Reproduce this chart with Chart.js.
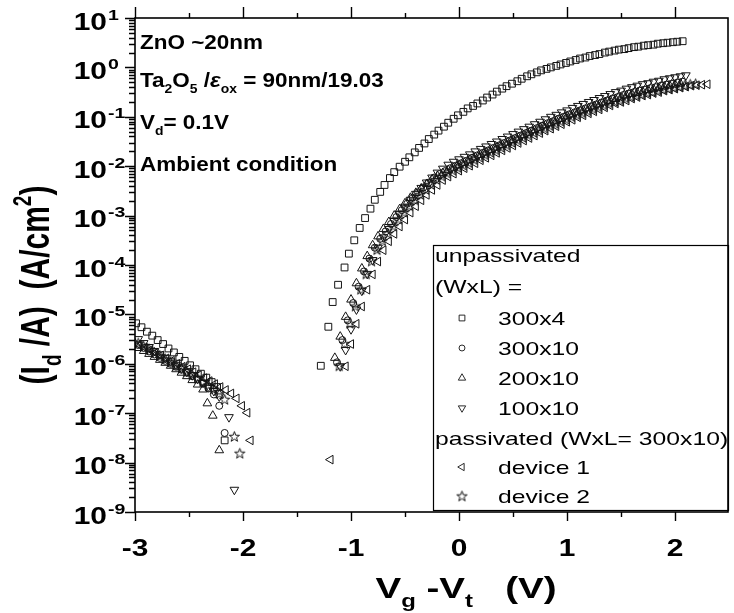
<!DOCTYPE html>
<html lang="en">
<head>
<meta charset="UTF-8">
<title>Id vs Vg - Vt</title>
<script src="https://cdn.jsdelivr.net/npm/chart.js"></script>
<style>
  body { margin: 0; background: #fff; }
  .chart-container { position: relative; width: 734px; height: 613px; }
</style>
</head>
<body>
<div class="chart-container"><canvas id="ivChart"></canvas></div>
<script>
// Data: [Vg - Vt (V), log10 of Id] (values taken on the log axis)
const sq300x4Off = [[-2.99,-5.18],[-2.94,-5.26],[-2.89,-5.35],[-2.84,-5.43],[-2.79,-5.52],[-2.74,-5.60],[-2.69,-5.69],[-2.64,-5.77],[-2.59,-5.86],[-2.54,-5.94],[-2.49,-6.03],[-2.44,-6.11],[-2.39,-6.20],[-2.34,-6.28],[-2.29,-6.37],[-2.24,-6.47],[-2.17,-7.55]];
const sq300x4On = [[-1.28,-6.04],[-1.21,-5.25],[-1.17,-4.75],[-1.12,-4.40],[-1.06,-4.05],[-1.02,-3.77],[-0.97,-3.50],[-0.92,-3.25],[-0.87,-3.05],[-0.82,-2.86],
  [-0.78,-2.68],[-0.73,-2.52],[-0.69,-2.38],[-0.64,-2.24],[-0.60,-2.12],[-0.55,-2.01],[-0.50,-1.91],[-0.46,-1.82],[-0.41,-1.72],[-0.37,-1.63],
  [-0.32,-1.54],[-0.28,-1.45],[-0.23,-1.36],[-0.19,-1.28],[-0.14,-1.20],[-0.10,-1.12],[-0.05,-1.04],[-0.01,-0.97],[0.04,-0.90],[0.08,-0.83],
  [0.13,-0.78],[0.17,-0.73],[0.22,-0.67],[0.26,-0.61],[0.31,-0.55],[0.35,-0.49],[0.40,-0.43],[0.44,-0.38],[0.49,-0.33],[0.54,-0.28],
  [0.58,-0.23],[0.63,-0.18],[0.67,-0.14],[0.72,-0.10],[0.76,-0.06],[0.81,-0.03],[0.85,0.00],[0.90,0.03],[0.94,0.06],[0.99,0.09],
  [1.03,0.12],[1.08,0.15],[1.12,0.18],[1.17,0.20],[1.21,0.23],[1.26,0.25],[1.30,0.27],[1.35,0.30],[1.39,0.32],[1.44,0.34],
  [1.48,0.36],[1.53,0.37],[1.57,0.39],[1.62,0.41],[1.66,0.42],[1.71,0.44],[1.75,0.45],[1.80,0.46],[1.84,0.48],[1.89,0.49],
  [1.93,0.50],[1.98,0.51],[2.02,0.52],[2.07,0.53]];

const circ300x10Off = [[-2.97,-5.62],[-2.92,-5.68],[-2.87,-5.75],[-2.82,-5.81],[-2.77,-5.88],[-2.72,-5.94],[-2.67,-6.00],[-2.62,-6.06],[-2.57,-6.12],[-2.52,-6.18],[-2.47,-6.25],[-2.42,-6.32],[-2.37,-6.40],[-2.32,-6.50],[-2.27,-6.62],[-2.22,-6.85],[-2.17,-7.40]];
const circ300x10On = [[-1.13,-5.97],[-1.08,-5.52],[-1.03,-5.12],[-0.98,-4.77],[-0.93,-4.44],[-0.88,-4.13],[-0.83,-3.87],[-0.78,-3.65],[-0.73,-3.47],[-0.68,-3.32],
  [-0.63,-3.17],[-0.58,-3.03],[-0.53,-2.89],[-0.48,-2.76],[-0.43,-2.64],[-0.38,-2.53],[-0.33,-2.43],[-0.28,-2.33],[-0.23,-2.23],[-0.18,-2.16],
  [-0.13,-2.10],[-0.08,-2.04],[-0.03,-1.99],[0.02,-1.94],[0.07,-1.89],[0.12,-1.83],[0.17,-1.78],[0.22,-1.73],[0.27,-1.68],[0.32,-1.63],
  [0.37,-1.58],[0.42,-1.53],[0.47,-1.48],[0.52,-1.43],[0.57,-1.38],[0.62,-1.33],[0.67,-1.28],[0.72,-1.23],[0.77,-1.18],[0.82,-1.13],
  [0.87,-1.09],[0.92,-1.04],[0.97,-1.00],[1.02,-0.95],[1.07,-0.91],[1.12,-0.87],[1.17,-0.83],[1.22,-0.79],[1.27,-0.75],[1.32,-0.71],
  [1.37,-0.67],[1.42,-0.63],[1.47,-0.60],[1.52,-0.56],[1.57,-0.53],[1.62,-0.50],[1.67,-0.47],[1.72,-0.45],[1.77,-0.42],[1.82,-0.40],
  [1.87,-0.37],[1.92,-0.35],[1.97,-0.33],[2.02,-0.31],[2.07,-0.29]];

const tri200x10Off = [[-2.97,-5.68],[-2.92,-5.74],[-2.87,-5.80],[-2.82,-5.86],[-2.77,-5.92],[-2.72,-5.98],[-2.67,-6.04],[-2.62,-6.11],[-2.57,-6.18],[-2.52,-6.25],[-2.47,-6.33],[-2.42,-6.42],[-2.37,-6.52],[-2.33,-6.80],[-2.28,-7.05],[-2.22,-7.75]];
const tri200x10On = [[-1.15,-5.88],[-1.10,-5.45],[-1.05,-5.05],[-1.00,-4.70],[-0.95,-4.37],[-0.90,-4.07],[-0.85,-3.82],[-0.80,-3.60],[-0.75,-3.42],[-0.70,-3.27],
  [-0.65,-3.13],[-0.60,-3.00],[-0.55,-2.87],[-0.50,-2.75],[-0.45,-2.64],[-0.40,-2.54],[-0.35,-2.45],[-0.30,-2.36],[-0.25,-2.27],[-0.20,-2.20],
  [-0.15,-2.14],[-0.10,-2.08],[-0.05,-2.03],[0.00,-1.98],[0.05,-1.93],[0.10,-1.87],[0.15,-1.82],[0.20,-1.77],[0.25,-1.72],[0.30,-1.67],
  [0.35,-1.62],[0.40,-1.57],[0.45,-1.52],[0.50,-1.47],[0.55,-1.42],[0.60,-1.37],[0.65,-1.32],[0.70,-1.27],[0.75,-1.22],[0.80,-1.17],
  [0.85,-1.13],[0.90,-1.08],[0.95,-1.04],[1.00,-0.99],[1.05,-0.95],[1.10,-0.91],[1.15,-0.87],[1.20,-0.83],[1.25,-0.79],[1.30,-0.75],
  [1.35,-0.71],[1.40,-0.68],[1.45,-0.64],[1.50,-0.61],[1.55,-0.57],[1.60,-0.54],[1.65,-0.52],[1.70,-0.49],[1.75,-0.46],[1.80,-0.44],
  [1.85,-0.42],[1.90,-0.39],[1.95,-0.37],[2.00,-0.35],[2.05,-0.33]];

const tri100x10Off = [[-2.97,-5.50],[-2.92,-5.58],[-2.87,-5.66],[-2.82,-5.74],[-2.77,-5.81],[-2.72,-5.88],[-2.67,-5.95],[-2.62,-6.02],[-2.57,-6.09],[-2.52,-6.16],[-2.47,-6.23],[-2.42,-6.30],[-2.37,-6.38],[-2.32,-6.46],[-2.27,-6.55],[-2.22,-6.66],[-2.13,-7.08],[-2.08,-8.55]];
const tri100x10On = [[-1.10,-6.05],[-1.05,-5.72],[-1.00,-5.30],[-0.95,-4.90],[-0.90,-4.52],[-0.85,-4.18],[-0.80,-3.90],[-0.75,-3.65],[-0.70,-3.44],[-0.65,-3.27],
  [-0.60,-3.11],[-0.55,-2.96],[-0.50,-2.82],[-0.45,-2.68],[-0.40,-2.56],[-0.35,-2.44],[-0.30,-2.33],[-0.25,-2.23],[-0.20,-2.13],[-0.15,-2.05],
  [-0.10,-1.97],[-0.05,-1.91],[0.00,-1.86],[0.05,-1.81],[0.10,-1.76],[0.15,-1.70],[0.20,-1.65],[0.25,-1.60],[0.30,-1.55],[0.35,-1.50],
  [0.40,-1.45],[0.45,-1.40],[0.50,-1.35],[0.55,-1.30],[0.60,-1.25],[0.65,-1.20],[0.70,-1.15],[0.75,-1.10],[0.80,-1.05],[0.85,-1.00],
  [0.90,-0.96],[0.95,-0.91],[1.00,-0.87],[1.05,-0.82],[1.10,-0.78],[1.15,-0.74],[1.20,-0.70],[1.25,-0.66],[1.30,-0.62],[1.35,-0.58],
  [1.40,-0.54],[1.45,-0.50],[1.50,-0.47],[1.55,-0.43],[1.60,-0.40],[1.65,-0.37],[1.70,-0.34],[1.75,-0.32],[1.80,-0.29],[1.85,-0.27],
  [1.90,-0.24],[1.95,-0.22],[2.00,-0.20],[2.05,-0.18],[2.10,-0.16]];

const device1Off = [[-2.96,-5.62],[-2.91,-5.67],[-2.86,-5.72],[-2.81,-5.78],[-2.76,-5.83],[-2.71,-5.89],[-2.66,-5.94],[-2.61,-6.00],[-2.56,-6.06],[-2.51,-6.11],[-2.46,-6.17],[-2.41,-6.23],[-2.36,-6.29],[-2.31,-6.35],[-2.26,-6.41],[-2.21,-6.47],[-2.16,-6.53],[-2.11,-6.60],[-2.06,-6.70],[-2.01,-6.85],[-1.96,-6.99],[-1.93,-7.55],[-1.19,-7.94]];
const device1On = [[-1.05,-6.05],[-1.00,-5.60],[-0.95,-5.19],[-0.90,-4.84],[-0.85,-4.50],[-0.80,-4.19],[-0.75,-3.93],[-0.70,-3.70],[-0.65,-3.52],[-0.60,-3.37],
  [-0.55,-3.22],[-0.50,-3.08],[-0.45,-2.94],[-0.40,-2.81],[-0.35,-2.69],[-0.30,-2.58],[-0.25,-2.48],[-0.20,-2.38],[-0.15,-2.28],[-0.10,-2.21],
  [-0.05,-2.15],[0.00,-2.09],[0.05,-2.04],[0.10,-1.99],[0.15,-1.94],[0.20,-1.88],[0.25,-1.83],[0.30,-1.78],[0.35,-1.73],[0.40,-1.68],
  [0.45,-1.63],[0.50,-1.58],[0.55,-1.53],[0.60,-1.48],[0.65,-1.43],[0.70,-1.38],[0.75,-1.33],[0.80,-1.28],[0.85,-1.24],[0.90,-1.19],
  [0.95,-1.15],[1.00,-1.10],[1.05,-1.06],[1.10,-1.01],[1.15,-0.97],[1.20,-0.93],[1.25,-0.89],[1.30,-0.85],[1.35,-0.81],[1.40,-0.77],
  [1.45,-0.73],[1.50,-0.70],[1.55,-0.67],[1.60,-0.63],[1.65,-0.60],[1.70,-0.57],[1.75,-0.55],[1.80,-0.52],[1.85,-0.50],[1.90,-0.47],
  [1.95,-0.45],[2.00,-0.43],[2.05,-0.41],[2.10,-0.39],[2.15,-0.37],[2.20,-0.36],[2.25,-0.35],[2.30,-0.34]];

const device2Off = [[-2.97,-5.58],[-2.92,-5.64],[-2.87,-5.70],[-2.82,-5.77],[-2.77,-5.83],[-2.72,-5.90],[-2.67,-5.96],[-2.62,-6.03],[-2.57,-6.09],[-2.52,-6.16],[-2.47,-6.22],[-2.42,-6.29],[-2.37,-6.36],[-2.32,-6.43],[-2.27,-6.51],[-2.22,-6.60],[-2.17,-6.72],[-2.08,-7.47],[-2.03,-7.81]];
const device2On = [[-1.11,-6.04],[-1.06,-5.59],[-1.01,-5.18],[-0.96,-4.83],[-0.91,-4.49],[-0.86,-4.18],[-0.81,-3.92],[-0.76,-3.69],[-0.71,-3.51],[-0.66,-3.36],
  [-0.61,-3.21],[-0.56,-3.07],[-0.51,-2.93],[-0.46,-2.80],[-0.41,-2.68],[-0.36,-2.57],[-0.31,-2.47],[-0.26,-2.37],[-0.21,-2.27],[-0.16,-2.20],
  [-0.11,-2.14],[-0.06,-2.08],[-0.01,-2.03],[0.04,-1.98],[0.09,-1.93],[0.14,-1.87],[0.19,-1.82],[0.24,-1.77],[0.29,-1.72],[0.34,-1.67],
  [0.39,-1.62],[0.44,-1.57],[0.49,-1.52],[0.54,-1.47],[0.59,-1.42],[0.64,-1.37],[0.69,-1.32],[0.74,-1.27],[0.79,-1.23],[0.84,-1.18],
  [0.89,-1.14],[0.94,-1.09],[0.99,-1.05],[1.04,-1.00],[1.09,-0.96],[1.14,-0.92],[1.19,-0.88],[1.24,-0.84],[1.29,-0.80],[1.34,-0.76],
  [1.39,-0.72],[1.44,-0.69],[1.49,-0.66],[1.54,-0.62],[1.59,-0.59],[1.64,-0.56],[1.69,-0.54],[1.74,-0.51],[1.79,-0.49],[1.84,-0.46],
  [1.89,-0.44],[1.94,-0.42],[1.99,-0.40],[2.04,-0.38],[2.09,-0.36],[2.14,-0.34],[2.19,-0.33]];

const seriesLabels = ['300x4', '300x10', '200x10', '100x10', 'device 1', 'device 2'];
const xMajorTicks = [-3, -2, -1, 0, 1, 2];
const xMinorTicks = [-2.5, -1.5, -0.5, 0.5, 1.5];
const xTickLabels = ['-3', '-2', '-1', '0', '1', '2'];
const yDecadeExps = [1, 0, -1, -2, -3, -4, -5, -6, -7, -8, -9];
const yTickExpLabels = ['1', '0', '-1', '-2', '-3', '-4', '-5', '-6', '-7', '-8', '-9'];

const FONT = '"Liberation Sans", Arial, Helvetica, sans-serif';
const INK = '#141414';

function toPoints(pairs) {
  return pairs.map(p => ({ x: p[0], y: Math.pow(10, p[1]) }));
}

// open 5-point star, Chart.js has no such marker
function makeStar() {
  const c = document.createElement('canvas');
  c.width = 13; c.height = 13;
  const g = c.getContext('2d');
  g.strokeStyle = INK; g.lineWidth = 1;
  g.beginPath();
  for (let k = 0; k < 10; k++) {
    const r = k % 2 === 0 ? 5.4 : 2.2;
    const ang = -Math.PI / 2 + k * Math.PI / 5;
    const px = 6.5 + r * Math.cos(ang), py = 7 + r * Math.sin(ang);
    if (k === 0) g.moveTo(px, py); else g.lineTo(px, py);
  }
  g.closePath();
  g.stroke();
  return c;
}
const starMark = makeStar();

const markers = [
  { pointStyle: 'rect', radius: 4.8, rotation: 0 },
  { pointStyle: 'circle', radius: 3.5, rotation: 0 },
  { pointStyle: 'triangle', radius: 5, rotation: 0 },
  { pointStyle: 'triangle', radius: 5, rotation: 180 },
  { pointStyle: 'triangle', radius: 5, rotation: 270 },
  { pointStyle: starMark, radius: 5, rotation: 0 }
];
const seriesData = [
  sq300x4Off.concat(sq300x4On),
  circ300x10Off.concat(circ300x10On),
  tri200x10Off.concat(tri200x10On),
  tri100x10Off.concat(tri100x10On),
  device1Off.concat(device1On),
  device2Off.concat(device2On)
];

// draw a list of [text, kind] runs from the current origin; kind: n, sub, sup, it
function drawRuns(ctx, runs, size, weight, draw) {
  let cx = 0;
  runs.forEach(([t, kind]) => {
    const small = kind === 'sub' || kind === 'sup';
    const fs = small ? Math.round(size * 0.62) : size;
    ctx.font = (kind === 'it' ? 'italic ' : '') + weight + ' ' + fs + 'px ' + FONT;
    const dy = kind === 'sub' ? size * 0.3 : (kind === 'sup' ? -size * 0.45 : 0);
    if (draw) ctx.fillText(t, cx, dy);
    cx += ctx.measureText(t).width;
  });
  return cx;
}

function text(ctx, runs, x, y, size, weight, sx, align) {
  ctx.save();
  ctx.translate(x, y);
  ctx.scale(sx, 1);
  const w = drawRuns(ctx, runs, size, weight, false);
  const off = align === 'center' ? -w / 2 : (align === 'right' ? -w : 0);
  ctx.translate(off, 0);
  drawRuns(ctx, runs, size, weight, true);
  ctx.restore();
}

const decorPlugin = {
  id: 'decor',
  afterDatasetsDraw(chart) {
    const ctx = chart.ctx, a = chart.chartArea;
    const xs = chart.scales.x, ys = chart.scales.y;
    ctx.save();
    ctx.fillStyle = '#000';
    ctx.strokeStyle = '#000';
    ctx.textBaseline = 'alphabetic';
    ctx.textAlign = 'left';

    // legend box
    const lb = { left: 433, top: 245, right: a.right, bottom: 510 };
    ctx.fillStyle = '#fff';
    ctx.fillRect(lb.left, lb.top, lb.right - lb.left, lb.bottom - lb.top);
    ctx.fillStyle = '#000';
    ctx.lineWidth = 1.2;
    ctx.strokeRect(lb.left + 0.5, lb.top + 0.5, lb.right - lb.left, lb.bottom - lb.top);

    // frame
    ctx.lineWidth = 1.6;
    ctx.strokeRect(a.left, a.top, a.right - a.left, a.bottom - a.top);

    // ticks
    ctx.lineWidth = 1.4;
    ctx.beginPath();
    xMajorTicks.forEach(v => {
      const px = Math.round(xs.getPixelForValue(v)) + 0.5;
      ctx.moveTo(px, a.bottom); ctx.lineTo(px, a.bottom + 9);
      ctx.moveTo(px, a.top); ctx.lineTo(px, a.top - 11);
    });
    xMinorTicks.forEach(v => {
      const px = Math.round(xs.getPixelForValue(v)) + 0.5;
      ctx.moveTo(px, a.bottom); ctx.lineTo(px, a.bottom + 5);
      ctx.moveTo(px, a.top); ctx.lineTo(px, a.top - 5);
    });
    yDecadeExps.forEach(e => {
      const py = Math.round(ys.getPixelForValue(Math.pow(10, e))) + 0.5;
      ctx.moveTo(a.left, py); ctx.lineTo(a.left - 10, py);
      if (e > -9) {
        for (let m = 2; m <= 9; m++) {
          const my = Math.round(ys.getPixelForValue(m * Math.pow(10, e - 1))) + 0.5;
          ctx.moveTo(a.left, my); ctx.lineTo(a.left - 6, my);
        }
      }
    });
    ctx.stroke();

    // y tick labels 10^n
    yDecadeExps.forEach((e, i) => {
      const py = ys.getPixelForValue(Math.pow(10, e));
      text(ctx, [['10', 'n']], 107, py + 11.5, 23, 'bold', 1.3, 'right');
      text(ctx, [[yTickExpLabels[i], 'n']], 108, py + 1.5, 15, 'bold', 1.3, 'left');
    });
    // x tick labels
    xMajorTicks.forEach((v, i) => {
      text(ctx, [[xTickLabels[i], 'n']], xs.getPixelForValue(v), 556, 23, 'bold', 1.3, 'center');
    });

    // axis titles
    text(ctx, [['V', 'n'], ['g', 'sub'], [' -V', 'n'], ['t', 'sub'], ['   (V)', 'n']], 466, 598, 29, 'bold', 1.33, 'center');
    ctx.save();
    ctx.translate(49, 285);
    ctx.rotate(-Math.PI / 2);
    ctx.scale(1, 1.33);
    const yt = [['(I', 'n'], ['d', 'sub'], [' /A)  (A/cm', 'n'], ['2', 'sup'], [')', 'n']];
    const ytw = drawRuns(ctx, yt, 30, 'bold', false);
    ctx.translate(-ytw / 2, 0);
    drawRuns(ctx, yt, 30, 'bold', true);
    ctx.restore();

    // annotations
    text(ctx, [['ZnO ~20nm', 'n']], 140, 49, 21, 'bold', 1.07, 'left');
    text(ctx, [['Ta', 'n'], ['2', 'sub'], ['O', 'n'], ['5', 'sub'], [' /', 'n'], ['\u03B5', 'it'], ['ox', 'sub'], [' = 90nm/19.03', 'n']], 140, 87, 21, 'bold', 1.07, 'left');
    text(ctx, [['V', 'n'], ['d', 'sub'], ['= 0.1V', 'n']], 140, 129, 21, 'bold', 1.07, 'left');
    text(ctx, [['Ambient condition', 'n']], 140, 171, 21, 'bold', 1.07, 'left');

    // legend content
    const rowY = [255, 286, 318, 348, 378, 408, 438, 467, 496];
    const rows = [['unpassivated', -1], ['(WxL) =', -1], [seriesLabels[0], 0], [seriesLabels[1], 1], [seriesLabels[2], 2],
      [seriesLabels[3], 3], ['passivated (WxL= 300x10)', -1], [seriesLabels[4], 4], [seriesLabels[5], 5]];
    rows.forEach(([label, ds], i) => {
      const cy = rowY[i];
      if (ds < 0) {
        text(ctx, [[label, 'n']], 435, cy + 7, 19, 'normal', 1.3, 'left');
      } else {
        ctx.save();
        ctx.strokeStyle = INK;
        ctx.fillStyle = 'rgba(0,0,0,0)';
        ctx.lineWidth = 0.9;
        const m = markers[ds];
        const lr = typeof m.pointStyle === 'string' ? m.radius * 0.85 : m.radius;
        Chart.helpers.drawPoint(ctx, { pointStyle: m.pointStyle, radius: lr, rotation: m.rotation, borderWidth: 0.9 }, 462, cy);
        ctx.restore();
        text(ctx, [[label, 'n']], 498, cy + 7, 19, 'normal', 1.3, 'left');
      }
    });
    ctx.restore();
  }
};

const ctx = document.getElementById('ivChart').getContext('2d');
const ivChart = new Chart(ctx, {
  type: 'scatter',
  data: {
    datasets: seriesData.map((pairs, i) => ({
      label: seriesLabels[i],
      data: toPoints(pairs),
      showLine: false,
      pointStyle: markers[i].pointStyle,
      pointRadius: markers[i].radius,
      pointRotation: markers[i].rotation,
      pointBorderColor: INK,
      pointBackgroundColor: 'rgba(0,0,0,0)',
      pointBorderWidth: 1
    }))
  },
  options: {
    responsive: true,
    maintainAspectRatio: false,
    animation: false,
    devicePixelRatio: 1,
    events: [],
    layout: { padding: { left: 135, right: 2, top: 18, bottom: 101 } },
    scales: {
      x: { type: 'linear', min: -3, max: 2.49, display: false },
      y: { type: 'logarithmic', min: 1e-9, max: 10, display: false }
    },
    plugins: {
      legend: { display: false },
      tooltip: { enabled: false }
    }
  },
  plugins: [decorPlugin]
});
</script>
</body>
</html>
